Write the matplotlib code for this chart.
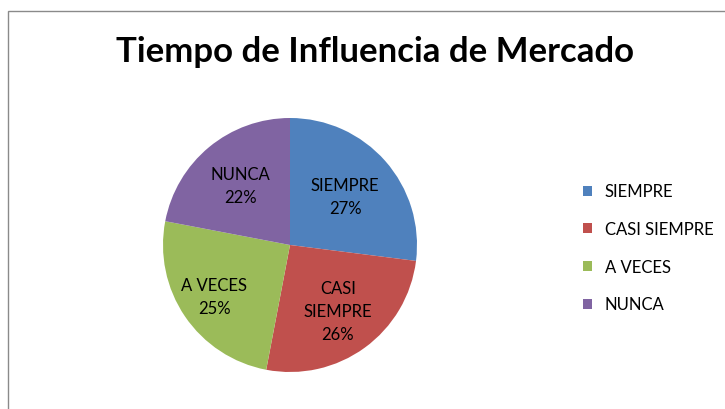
import numpy as np
import matplotlib.pyplot as plt
from matplotlib.patches import Rectangle

categories = ['SIEMPRE', 'CASI SIEMPRE', 'A VECES', 'NUNCA']
values = [27, 26, 25, 22]
colors = ['#4F81BD', '#C0504D', '#9BBB59', '#8064A2']
# Excel splits the long label over two lines inside the slice
slice_labels = ['SIEMPRE', 'CASI\nSIEMPRE', 'A VECES', 'NUNCA']
label_dist = [0.58, 0.64, 0.72, 0.61]

plt.rcParams['font.family'] = ['Lato', 'DejaVu Sans']

fig = plt.figure(figsize=(7.25, 4.10), dpi=100)

# grey chart-area frame, cut off at right and bottom like the screenshot
fig.patches.append(Rectangle((8 / 725, -0.1), 1.2, 1.1 - 12 / 410,
                             transform=fig.transFigure, fill=False,
                             edgecolor='#8a8a8a', linewidth=1.0))

ax = fig.add_axes([(290 - 127) / 725, (410 - 373) / 410, 254 / 725, 254 / 410])
wedges, _ = ax.pie(values, colors=colors, startangle=90, counterclock=False,
                   radius=1.0, wedgeprops={'linewidth': 0})
ax.set_xlim(-1, 1)
ax.set_ylim(-1, 1)
ax.set_aspect('equal')

for w, lab, v, d in zip(wedges, slice_labels, values, label_dist):
    ang = np.deg2rad((w.theta1 + w.theta2) / 2)
    ax.text(d * np.cos(ang), d * np.sin(ang), f'{lab}\n{v}%',
            ha='center', va='center', fontsize=12, linespacing=1.55,
            color='#000000')

fig.text(0.517, 0.872, 'Tiempo de Influencia de Mercado', ha='center',
         va='center', fontsize=25, fontweight='bold')

handles = [Rectangle((0, 0), 1, 1, facecolor=c) for c in colors]
fig.legend(handles, categories, loc='center left',
           bbox_to_anchor=(568 / 725, 1 - 249 / 410), frameon=False,
           fontsize=12, handlelength=0.55, handleheight=0.55,
           handletextpad=0.75, labelspacing=1.3)

fig.savefig('out.png', dpi=100)
